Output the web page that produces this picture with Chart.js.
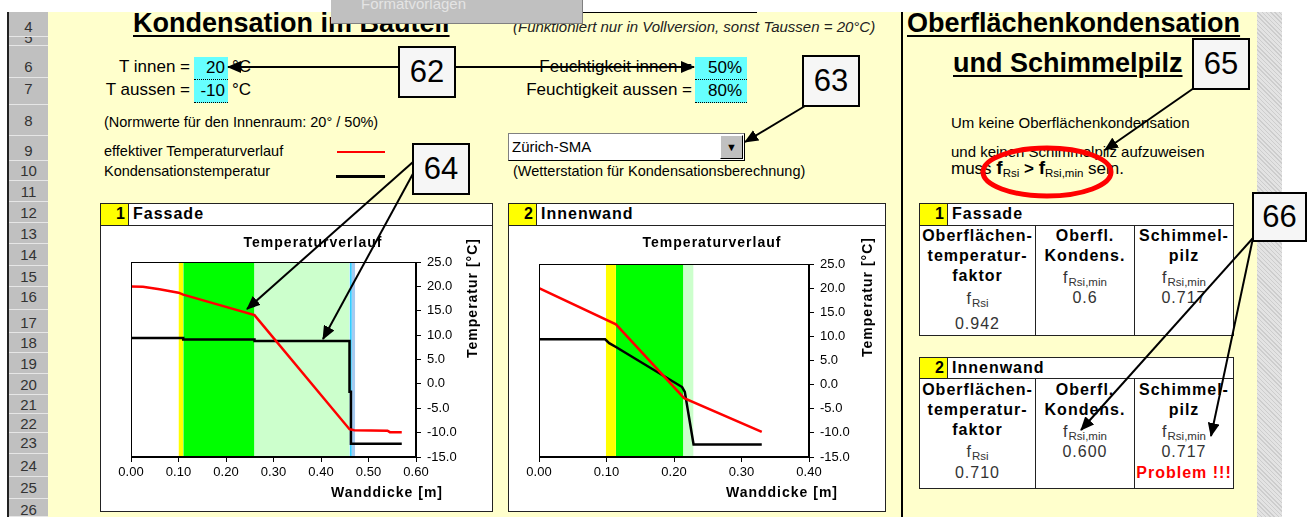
<!DOCTYPE html>
<html>
<head>
<meta charset="utf-8">
<title>Kondensation im Bauteil</title>
<script src="https://cdn.jsdelivr.net/npm/chart.js@4.4.1/dist/chart.umd.min.js"></script>
<style>
  body { margin:0; width:1307px; height:517px; overflow:hidden; position:relative; background:#fff;
         font-family:"Liberation Sans", Arial, sans-serif; color:#000; }
  .a { position:absolute; white-space:nowrap; }
  .rowh { position:absolute; left:9px; width:39px; background:#c0c0c0; border-bottom:1px solid #e6e6e6;
          box-sizing:border-box; overflow:hidden; }
  .rowh span { position:absolute; left:0; width:39px; text-align:center; font-size:15px; color:#333; line-height:16px; }
  .big { font-weight:bold; font-size:27px; text-decoration:underline; text-decoration-thickness:2px; text-underline-offset:3px; }
  .f17 { font-size:17px; line-height:20px; }
  .f14 { font-size:14.5px; line-height:18px; }
  .cyan { background:#6ff; border-bottom:1px dotted #000; text-align:right; box-sizing:border-box; padding-right:3px; font-size:17px; line-height:22px; }
  .callout { position:absolute; background:#f6f6f6; border:2px solid #000; box-sizing:border-box; text-align:center;
             font-size:31px; z-index:5; }
  .box { position:absolute; border:1px solid #222; box-sizing:border-box; background:#fff; }
  .hd { font-weight:bold; font-size:16px; letter-spacing:1px; line-height:20px; }
  .yel { position:absolute; background:#ff0; border-right:1px solid #222; box-sizing:border-box; text-align:right;
         padding-right:3px; font-weight:bold; font-size:16px; line-height:20px; }
  .cell { position:absolute; text-align:center; font-size:16px; line-height:20px; }
  .cell b { letter-spacing:1px; }
  .g { color:#333; letter-spacing:1px; }
  sub { font-size:11.5px; vertical-align:-3px; letter-spacing:0; }
  canvas { position:absolute; }
  svg { position:absolute; left:0; top:0; z-index:4; }
</style>
</head>
<body>

<!-- sheet background -->
<div class="a" style="left:48px;top:12px;width:1209px;height:505px;background:#ffffcc"></div>
<div class="a" style="left:1257px;top:12px;width:25px;height:505px;background:repeating-linear-gradient(45deg,#cdcdcd 0 1px,#e3e3e3 1px 3px)"></div>
<div class="a" style="left:7px;top:12px;width:2px;height:505px;background:#222"></div>
<div id="rows"></div>

<!-- left header block -->
<div class="a big" style="left:133px;top:8px;line-height:30px">Kondensation im Bauteil</div>
<div class="a" style="left:331px;top:0;width:252px;height:24px;background:#c0c0c0;border-right:1px solid #808080;border-bottom:1px solid #808080;box-sizing:border-box;overflow:hidden;z-index:3">
  <span class="a" style="left:30px;top:-5px;font-size:15px;color:#e4e4e4">Formatvorlagen</span></div>
<div class="a" style="left:583px;top:12px;width:174px;height:1px;background:#000"></div>
<div class="a" style="left:513px;top:18px;font-style:italic;font-size:15px;line-height:18px;color:#222">(Funktioniert nur in Vollversion, sonst Taussen = 20°C)</div>

<div class="a f17" style="left:60px;width:130px;text-align:right;top:57px">T innen =</div>
<div class="a cyan" style="left:194px;top:57px;width:34px;height:23px">20</div>
<div class="a f17" style="left:232px;top:57px">°C</div>
<div class="a f17" style="left:60px;width:130px;text-align:right;top:80px">T aussen =</div>
<div class="a cyan" style="left:194px;top:80px;width:34px;height:23px">-10</div>
<div class="a f17" style="left:232px;top:80px">°C</div>

<div class="a f14" style="left:104px;top:113px">(Normwerte für den Innenraum: 20° / 50%)</div>
<div class="a f14" style="left:104px;top:142px">effektiver Temperaturverlauf</div>
<div class="a" style="left:337px;top:151px;width:48px;height:2px;background:#f00"></div>
<div class="a f14" style="left:104px;top:162px">Kondensationstemperatur</div>
<div class="a" style="left:336px;top:175px;width:49px;height:3px;background:#000"></div>

<div class="a f17" style="left:480px;width:212px;text-align:right;top:57px">Feuchtigkeit innen =</div>
<div class="a cyan" style="left:695px;top:57px;width:52px;height:23px;padding-right:5px">50%</div>
<div class="a f17" style="left:480px;width:212px;text-align:right;top:80px">Feuchtigkeit aussen =</div>
<div class="a cyan" style="left:695px;top:80px;width:52px;height:23px;padding-right:5px">80%</div>

<div class="a" style="left:508px;top:133px;width:237px;height:28px;background:#fff;border:1px solid #000;border-top-color:#808080;border-left-color:#808080;box-sizing:border-box"></div>
<div class="a" style="left:512px;top:137px;font-size:15px;line-height:20px">Zürich-SMA</div>
<div class="a" style="left:720px;top:135px;width:23px;height:24px;background:#c0c0c0;border:1px solid #000;border-top-color:#fff;border-left-color:#fff;box-sizing:border-box;text-align:center;font-size:11px;line-height:22px">&#9660;</div>
<div class="a f14" style="left:513px;top:162px">(Wetterstation für Kondensationsberechnung)</div>

<!-- chart panels -->
<div class="box" style="left:100px;top:203px;width:393px;height:309px"></div>
<div class="box" style="left:100px;top:203px;width:393px;height:23px"></div>
<div class="yel" style="left:101px;top:204px;width:28px;height:21px">1</div>
<div class="a hd" style="left:133px;top:204px">Fassade</div>
<canvas id="chart1" width="390" height="285" style="left:101px;top:226px"></canvas>

<div class="box" style="left:508px;top:203px;width:378px;height:309px"></div>
<div class="box" style="left:508px;top:203px;width:378px;height:23px"></div>
<div class="yel" style="left:509px;top:204px;width:28px;height:21px">2</div>
<div class="a hd" style="left:541px;top:204px">Innenwand</div>
<canvas id="chart2" width="376" height="285" style="left:509px;top:226px"></canvas>

<!-- right block -->
<div class="a" style="left:901px;top:12px;width:2px;height:505px;background:#000"></div>
<div class="a big" style="left:907px;top:8px;line-height:30px">Oberflächenkondensation</div>
<div class="a big" style="left:953px;top:48px;line-height:30px">und Schimmelpilz</div>
<div class="a f14" style="left:951px;top:114px;font-size:15px">Um keine Oberflächenkondensation</div>
<div class="a f14" style="left:951px;top:143px;font-size:15px">und keinen Schimmelpilz aufzuweisen</div>
<div class="a" style="left:951px;top:157px;font-size:17px;line-height:22px">muss <b style="font-size:19px">f</b><sub>Rsi</sub> <b>&gt;</b> <b style="font-size:19px">f</b><sub>Rsi,min</sub> sein.</div>

<div class="box" style="left:919px;top:203px;width:315px;height:23px"></div>
<div class="yel" style="left:920px;top:204px;width:28px;height:21px">1</div>
<div class="a hd" style="left:952px;top:204px">Fassade</div>
<div class="box" style="left:919px;top:225px;width:117px;height:111px"></div>
<div class="box" style="left:1035px;top:225px;width:100px;height:111px"></div>
<div class="box" style="left:1134px;top:225px;width:100px;height:111px"></div>
<div class="cell" style="left:919px;width:117px;top:226px"><b>Oberflächen-<br>temperatur-<br>faktor</b></div>
<div class="cell g" style="left:919px;width:117px;top:289px">f<sub>Rsi</sub></div>
<div class="cell g" style="left:919px;width:117px;top:314px">0.942</div>
<div class="cell" style="left:1035px;width:100px;top:226px"><b>Oberfl.<br>Kondens.</b></div>
<div class="cell g" style="left:1035px;width:100px;top:268px">f<sub>Rsi,min</sub></div>
<div class="cell g" style="left:1035px;width:100px;top:288px">0.6</div>
<div class="cell" style="left:1134px;width:100px;top:226px"><b>Schimmel-<br>pilz</b></div>
<div class="cell g" style="left:1134px;width:100px;top:268px">f<sub>Rsi,min</sub></div>
<div class="cell g" style="left:1134px;width:100px;top:288px">0.717</div>

<div class="box" style="left:919px;top:357px;width:315px;height:22px"></div>
<div class="yel" style="left:920px;top:358px;width:28px;height:20px">2</div>
<div class="a hd" style="left:952px;top:358px">Innenwand</div>
<div class="box" style="left:919px;top:378px;width:117px;height:111px"></div>
<div class="box" style="left:1035px;top:378px;width:100px;height:111px"></div>
<div class="box" style="left:1134px;top:378px;width:100px;height:111px"></div>
<div class="cell" style="left:919px;width:117px;top:380px"><b>Oberflächen-<br>temperatur-<br>faktor</b></div>
<div class="cell g" style="left:919px;width:117px;top:442px">f<sub>Rsi</sub></div>
<div class="cell g" style="left:919px;width:117px;top:463px">0.710</div>
<div class="cell" style="left:1035px;width:100px;top:380px"><b>Oberfl.<br>Kondens.</b></div>
<div class="cell g" style="left:1035px;width:100px;top:422px">f<sub>Rsi,min</sub></div>
<div class="cell g" style="left:1035px;width:100px;top:442px">0.600</div>
<div class="cell" style="left:1134px;width:100px;top:380px"><b>Schimmel-<br>pilz</b></div>
<div class="cell g" style="left:1134px;width:100px;top:422px">f<sub>Rsi,min</sub></div>
<div class="cell g" style="left:1134px;width:100px;top:442px">0.717</div>
<div class="cell" style="left:1134px;width:100px;top:463px;color:#f00;font-weight:bold;letter-spacing:1px">Problem !!!</div>

<!-- callouts -->
<div class="callout" style="left:398px;top:46px;width:58px;height:52px;line-height:48px">62</div>
<div class="callout" style="left:802px;top:55px;width:58px;height:52px;line-height:48px">63</div>
<div class="callout" style="left:412px;top:143px;width:58px;height:52px;line-height:48px">64</div>
<div class="callout" style="left:1192px;top:38px;width:58px;height:52px;line-height:48px">65</div>
<div class="callout" style="left:1252px;top:192px;width:55px;height:50px;line-height:46px">66</div>

<svg width="1307" height="517">
  <defs>
    <marker id="ah" markerWidth="14" markerHeight="12" refX="13" refY="6" orient="auto" markerUnits="userSpaceOnUse">
      <path d="M0,0 L14,6 L0,12 z" fill="#000"/>
    </marker>
  </defs>
  <g stroke="#000" stroke-width="2" fill="none" marker-end="url(#ah)">
    <line x1="399" y1="67" x2="228" y2="67"/>
    <line x1="455" y1="67" x2="694" y2="67"/>
    <line x1="805" y1="106" x2="745" y2="142"/>
    <line x1="413" y1="162" x2="247" y2="309"/>
    <line x1="415" y1="170" x2="323" y2="339"/>
    <line x1="1194" y1="88" x2="1105" y2="150"/>
    <line x1="1253" y1="238" x2="1081" y2="430"/>
    <line x1="1253" y1="238" x2="1211" y2="436"/>
  </g>
  <ellipse cx="1047" cy="172" rx="64" ry="24" fill="none" stroke="#f00" stroke-width="5"/>
</svg>

<script>
// Excel row headers: label, top, label centre
const rowLabels = [4, 5, 6, 7, 8, 9, 10, 11, 12, 13, 14, 15, 16, 17, 18, 19, 20, 21, 22, 23, 24, 25, 26];
const rowTops = [12, 37, 46, 78, 105, 136, 161, 181, 202, 223, 244, 266, 287, 310, 333, 353, 374, 395, 414, 433, 454, 477, 499];
const rowCenters = [27, 38, 67, 89, 121, 151, 171, 192, 213, 234, 255, 277, 297, 323, 343, 364, 385, 405, 424, 443, 466, 488, 510];

// 1 Fassade: temperature profile (red) and condensation temperature (black)
const fassadeTempX = [0, 0.025, 0.06, 0.10, 0.11, 0.26, 0.46, 0.47, 0.54, 0.545, 0.57];
const fassadeTempY = [20.0, 19.9, 19.4, 18.7, 18.3, 14.1, -9.3, -9.5, -9.6, -9.9, -9.9];
const fassadeKondX = [0, 0.11, 0.11, 0.26, 0.26, 0.46, 0.46, 0.463, 0.463, 0.57];
const fassadeKondY = [9.4, 9.4, 9.1, 9.1, 8.8, 8.8, -1.6, -1.6, -12.3, -12.3];
const fassadeLayerFrom = [0.10, 0.11, 0.26, 0.46, 0.465];
const fassadeLayerTo = [0.11, 0.26, 0.46, 0.465, 0.472];
const fassadeLayerColors = ['#ffff00', '#00ff00', '#ccffcc', '#33ccff', '#a6caf0'];

// 2 Innenwand
const innenTempX = [0, 0.114, 0.215, 0.33];
const innenTempY = [20.0, 12.5, -2.8, -9.8];
const innenKondX = [0, 0.098, 0.104, 0.114, 0.212, 0.216, 0.229, 0.33];
const innenKondY = [9.4, 9.4, 8.6, 7.8, -0.5, -1.5, -12.4, -12.4];
const innenLayerFrom = [0.099, 0.114, 0.214];
const innenLayerTo = [0.114, 0.214, 0.229];
const innenLayerColors = ['#ffff00', '#00ff00', '#ccffcc'];

const yMin = -15, yMax = 25, yStep = 5, xStep = 0.1;

const rowsDiv = document.getElementById('rows');
rowLabels.forEach((lab, i) => {
	const top = rowTops[i];
	const bottom = i + 1 < rowTops.length ? rowTops[i + 1] : 517;
	const d = document.createElement('div');
	d.className = 'rowh';
	d.style.top = top + 'px';
	d.style.height = (bottom - top) + 'px';
	const s = document.createElement('span');
	s.textContent = lab;
	s.style.top = (rowCenters[i] - top - 8) + 'px';
	d.appendChild(s);
	rowsDiv.appendChild(d);
});

function pts(xs, ys) {
	return xs.map((x, i) => ({ x: x, y: ys[i] }));
}

// frame + titles drawn in canvas around the plot area
const decorPlugin = {
	id: 'decor',
	afterDraw(chart, args, o) {
		const { ctx, chartArea: a } = chart;
		ctx.save();
		ctx.strokeStyle = '#000';
		ctx.lineWidth = 1;
		ctx.strokeRect(a.left + 0.5, a.top + 0.5, a.right - a.left - 1, a.bottom - a.top - 1);
		ctx.fillStyle = '#000';
		ctx.font = 'bold 14px "Liberation Sans", Arial';
		ctx.letterSpacing = '1px';
		ctx.textBaseline = 'middle';
		ctx.textAlign = 'center';
		ctx.fillText(o.title, a.right + o.titleDx, a.top + o.titleDy);
		ctx.textAlign = 'right';
		ctx.fillText(o.xTitle, a.right + o.xTitleDx, a.bottom + o.xTitleDy);
		ctx.translate(a.right + o.yTitleDx, a.top + o.yTitleDy);
		ctx.rotate(-Math.PI / 2);
		ctx.textAlign = 'center';
		ctx.fillText(o.yTitle, 0, 0);
		ctx.restore();
	}
};

function makeChart(id, tempX, tempY, kondX, kondY, layerFrom, layerTo, layerColors, xMax, geo) {
	const datasets = [
		{ data: pts(tempX, tempY), borderColor: '#ff0000', borderWidth: 2.5, pointRadius: 0, order: 0 },
		{ data: pts(kondX, kondY), borderColor: '#000000', borderWidth: 2.5, pointRadius: 0, order: 0 }
	];
	layerFrom.forEach((x0, i) => {
		datasets.push({
			data: [{ x: x0, y: yMax }, { x: layerTo[i], y: yMax }],
			borderWidth: 0, pointRadius: 0, fill: 'start',
			backgroundColor: layerColors[i], order: 1
		});
	});
	const tickFont = { family: '"Liberation Sans", Arial', size: 13 };
	return new Chart(document.getElementById(id), {
		type: 'line',
		data: { datasets: datasets },
		options: {
			responsive: false,
			animation: false,
			layout: { padding: { left: geo.left, top: geo.top, right: 0, bottom: 0 } },
			plugins: {
				legend: { display: false },
				tooltip: { enabled: false },
				decor: geo.decor
			},
			elements: { line: { tension: 0 } },
			scales: {
				x: {
					type: 'linear', min: 0, max: xMax,
					ticks: { stepSize: xStep, autoSkip: false, maxRotation: 0, color: '#000', font: tickFont, padding: 3,
						callback: v => Number(v).toFixed(2) },
					grid: { drawOnChartArea: false, tickLength: 5, color: '#000' },
					border: { color: '#000' },
					afterFit: s => { s.height = geo.xHeight; }
				},
				y: {
					position: 'right', min: yMin, max: yMax,
					ticks: { stepSize: yStep, color: '#000', font: tickFont, padding: 6,
						callback: v => Number(v).toFixed(1) },
					grid: { drawOnChartArea: false, tickLength: 5, color: '#000' },
					border: { color: '#000' },
					afterFit: s => { s.width = geo.yWidth; }
				}
			}
		},
		plugins: [decorPlugin]
	});
}

makeChart('chart1', fassadeTempX, fassadeTempY, fassadeKondX, fassadeKondY,
	fassadeLayerFrom, fassadeLayerTo, fassadeLayerColors, 0.6,
	{ left: 30, top: 36, xHeight: 54, yWidth: 75,
	  decor: { title: 'Temperaturverlauf', titleDx: -103, titleDy: -19,
	           xTitle: 'Wanddicke [m]', xTitleDx: 27, xTitleDy: 36,
	           yTitle: 'Temperatur [°C]', yTitleDx: 57, yTitleDy: 36 } });

makeChart('chart2', innenTempX, innenTempY, innenKondX, innenKondY,
	innenLayerFrom, innenLayerTo, innenLayerColors, 0.4,
	{ left: 30, top: 38, xHeight: 54, yWidth: 76,
	  decor: { title: 'Temperaturverlauf', titleDx: -97, titleDy: -21,
	           xTitle: 'Wanddicke [m]', xTitleDx: 29, xTitleDy: 36,
	           yTitle: 'Temperatur [°C]', yTitleDx: 59, yTitleDy: 33 } });
</script>
</body>
</html>
